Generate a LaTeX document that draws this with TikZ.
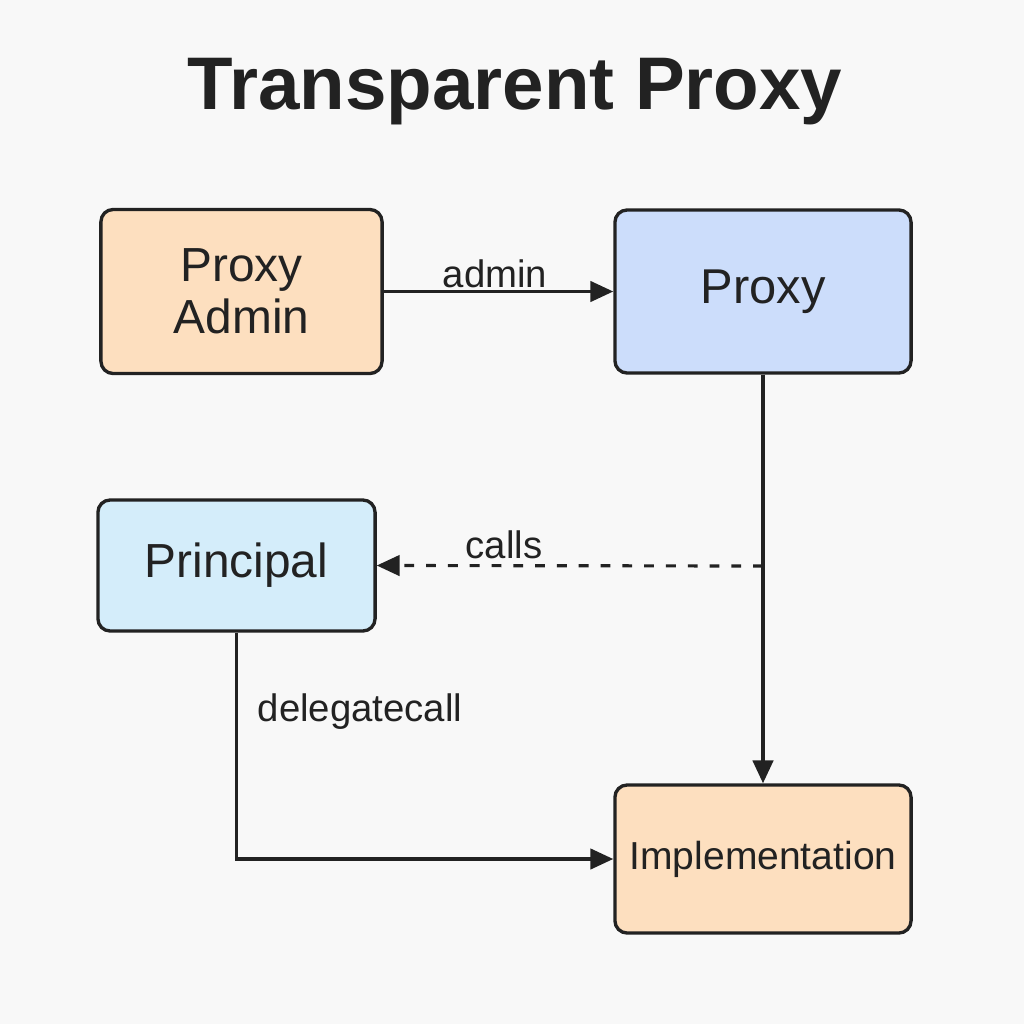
\documentclass[tikz,border=0pt]{standalone}
\usepackage{fontspec}
\setmainfont{Liberation Sans}
\usetikzlibrary{arrows.meta}
\definecolor{bg}{HTML}{F8F8F8}
\definecolor{ink}{HTML}{222222}
\definecolor{peach}{HTML}{FDDFBF}
\definecolor{pblue}{HTML}{CCDDFB}
\definecolor{pcyan}{HTML}{D4EDFA}
\tikzset{
  box/.style={draw=ink, line width=0.95pt, rounded corners=3.5pt, text=ink, align=center, inner sep=0pt},
  conn/.style={draw=ink, line width=0.9pt, -{Triangle[length=6.5pt,width=5.8pt]}},
  lbl/.style={text=ink, font=\fontsize{10.9}{12}\selectfont, inner sep=0pt}
}
\begin{document}
\begin{tikzpicture}[x=0.01cm,y=-0.01cm]
\useasboundingbox[fill=bg] (0,0) rectangle (1024,1024);
\node[text=ink, font=\bfseries\fontsize{21.2}{26}\selectfont, anchor=base] (title) at (515,110) {Transparent Proxy};
\node[box, fill=peach, minimum width=2.81cm, minimum height=1.64cm, font=\fontsize{13.6}{14.8}\selectfont] (admin) at (241.5,291.5) {Proxy\\Admin};
\node[box, fill=pblue, minimum width=2.96cm, minimum height=1.63cm, font=\fontsize{13.9}{15}\selectfont] (proxy) at (763,291.5) {Proxy};
\node[box, fill=pcyan, minimum width=2.77cm, minimum height=1.31cm, font=\fontsize{13.6}{15}\selectfont] (principal) at (236.5,565.5) {Principal};
\node[box, fill=peach, minimum width=2.96cm, minimum height=1.48cm, font=\fontsize{11.1}{14}\selectfont] (impl) at (763,859) {Implementation};
\coordinate (split) at (763,566);
\draw[conn] (admin.east) -- (proxy.west);
\draw[conn] (proxy.south) -- (impl.north);
\draw[conn, dash pattern=on 2.8pt off 3.4pt] (split) -- (principal.east);
\draw[conn] (principal.south) |- (impl.west);
\node[lbl] (ladmin) at (495,274) {admin};
\node[lbl] (lcalls) at (504,545) {calls};
\node[lbl, anchor=west] (ldel) at (257,712) {delegatecall};
\end{tikzpicture}
\end{document}
